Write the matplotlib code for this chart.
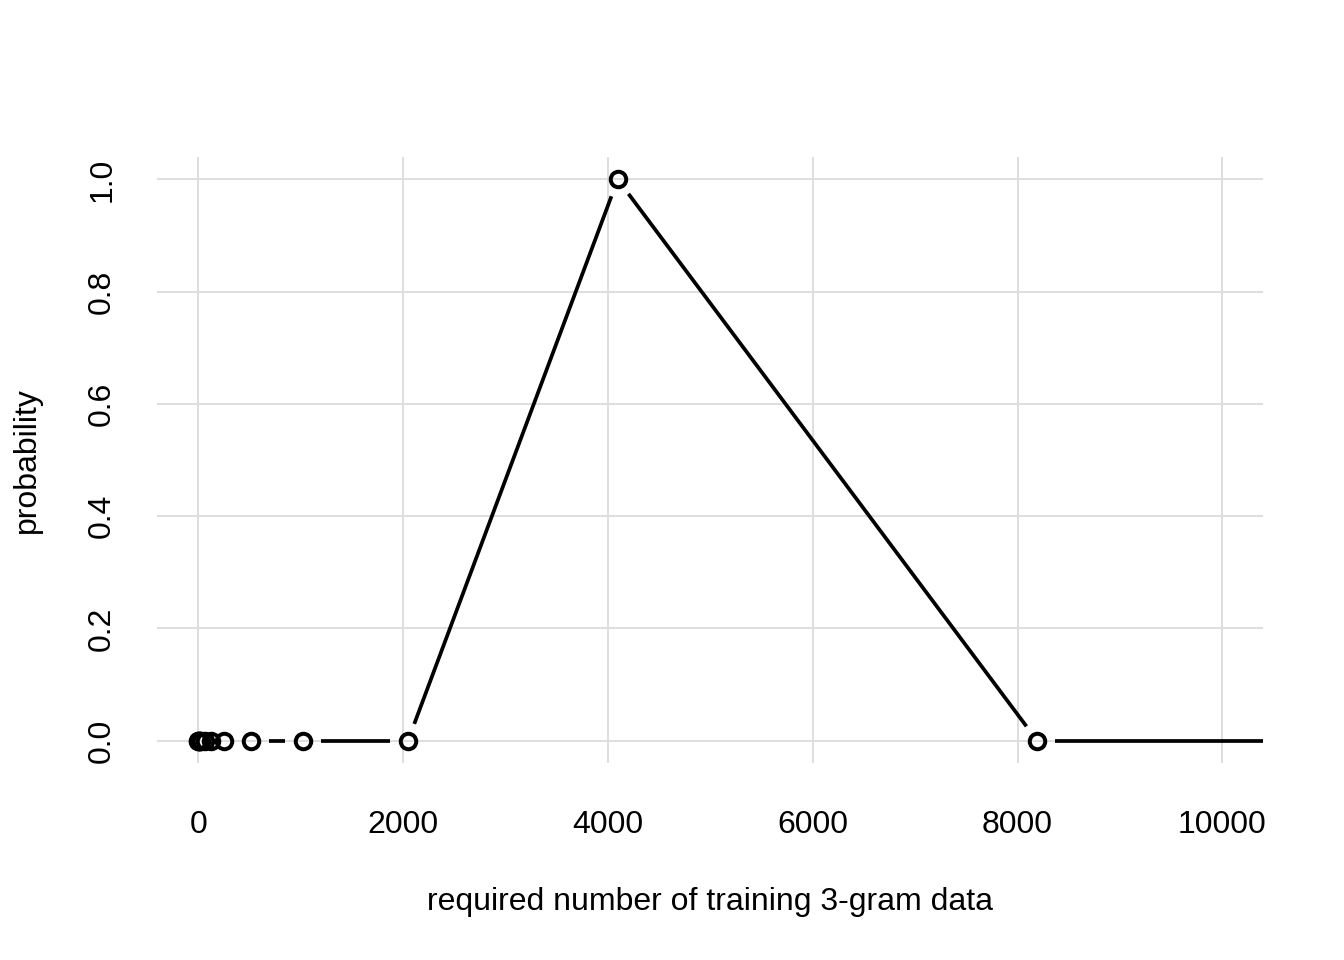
import numpy as np
import matplotlib
matplotlib.use("Agg")
import matplotlib.pyplot as plt

# data: required number of training 3-gram data vs probability
n_data = [1, 2, 4, 8, 16, 32, 64, 128, 256, 512, 1024, 2048, 4096, 8192, 16384]
prob = [0, 0, 0, 0, 0, 0, 0, 0, 0, 0, 0, 0, 1.0, 0, 0]

plt.rcParams['font.family'] = ['Liberation Sans', 'DejaVu Sans']

fig = plt.figure(figsize=(7, 5), dpi=192)
ax = fig.add_axes([0.117, 0.205, 0.823, 0.6315])
ax.set_xlim(-400, 10400)
ax.set_ylim(-0.04, 1.04)

# grid
for s in ax.spines.values():
    s.set_visible(False)
ax.set_xticks([0, 2000, 4000, 6000, 8000, 10000])
ax.set_yticks([0.0, 0.2, 0.4, 0.6, 0.8, 1.0])
ax.set_yticklabels(['0.0', '0.2', '0.4', '0.6', '0.8', '1.0'], rotation=90, va='center')
ax.grid(True, color='#dedede', lw=0.75)
ax.set_axisbelow(True)
ax.tick_params(length=0, labelsize=12)
ax.tick_params(axis='x', pad=17.5)
ax.tick_params(axis='y', pad=15)

# type "b" style: lines with gaps around points
gap = 18.0  # pixels
pts = ax.transData.transform(np.column_stack([n_data, prob]))
inv = ax.transData.inverted()
for i in range(len(pts) - 1):
    p0, p1 = pts[i], pts[i + 1]
    d = p1 - p0
    L = np.hypot(*d)
    if L <= 2 * gap:
        continue
    u = d / L
    seg = inv.transform(np.array([p0 + u * gap, p1 - u * gap]))
    ax.plot(seg[:, 0], seg[:, 1], color='black', lw=1.4, solid_capstyle='butt')

ax.plot(n_data, prob, 'o', ms=5.8, mfc='none', mec='black', mew=1.5)

ax.set_xlabel('required number of training 3-gram data', fontsize=12, labelpad=17.5)
ax.set_ylabel('probability', fontsize=12, labelpad=17)

fig.savefig('out.png', dpi=192)
